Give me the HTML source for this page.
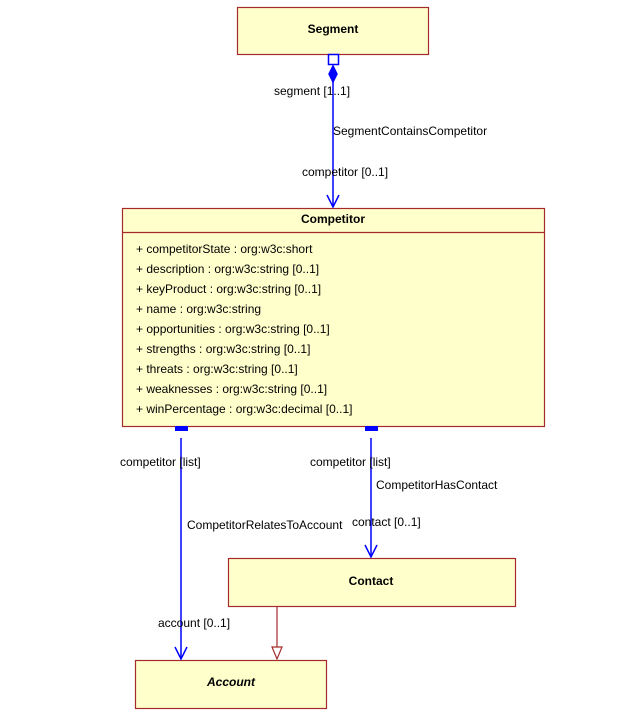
<!DOCTYPE html>
<html><head><style>
body{margin:0;background:#fff;}
svg text{font-family:"Liberation Sans",Arial,sans-serif;font-size:12px;fill:#000;}
</style></head><body>
<svg width="641" height="715" xmlns="http://www.w3.org/2000/svg">
<g fill="#ffffcc" stroke="#a52a2a" stroke-width="1.2">
<rect x="237.5" y="7.5" width="191" height="47"/>
<rect x="122.5" y="208.5" width="422" height="218"/>
<rect x="228.5" y="558.5" width="287" height="48"/>
<rect x="135.5" y="660.5" width="191" height="48"/>
</g>
<line x1="122.5" y1="232.5" x2="544.5" y2="232.5" stroke="#a52a2a" stroke-width="1.2"/>
<text x="333" y="33" text-anchor="middle" font-weight="bold">Segment</text>
<text x="333" y="223" text-anchor="middle" font-weight="bold">Competitor</text>
<text x="371" y="585" text-anchor="middle" font-weight="bold">Contact</text>
<text x="231" y="686" text-anchor="middle" font-weight="bold" font-style="italic">Account</text>
<g>
<text x="136" y="253">+ competitorState : org:w3c:short</text>
<text x="136" y="273">+ description : org:w3c:string [0..1]</text>
<text x="136" y="293">+ keyProduct : org:w3c:string [0..1]</text>
<text x="136" y="313">+ name : org:w3c:string</text>
<text x="136" y="333">+ opportunities : org:w3c:string [0..1]</text>
<text x="136" y="353">+ strengths : org:w3c:string [0..1]</text>
<text x="136" y="373">+ threats : org:w3c:string [0..1]</text>
<text x="136" y="393">+ weaknesses : org:w3c:string [0..1]</text>
<text x="136" y="413">+ winPercentage : org:w3c:decimal [0..1]</text>
</g>
<g stroke="#0000ff" stroke-width="1.5" fill="none">
<line x1="333" y1="66" x2="333" y2="207"/>
<rect x="328.5" y="54.5" width="10" height="10" fill="#fff"/>
<path d="M333 66 L337 74 L333 82 L329 74 Z" fill="#0000ff"/>
<path d="M327 195 L333 207 L339 195"/>
<line x1="181" y1="438" x2="181" y2="659"/>
<path d="M175 647 L181 659 L187 647"/>
<line x1="371" y1="438" x2="371" y2="557"/>
<path d="M365 545 L371 557 L377 545"/>
</g>
<rect x="175" y="426" width="13" height="5" fill="#0000ff"/>
<rect x="365" y="426" width="13" height="5" fill="#0000ff"/>
<line x1="277" y1="607" x2="277" y2="647" stroke="#a52a2a" stroke-width="1.2"/>
<path d="M272 647 L282 647 L277 659 Z" fill="#fff" stroke="#a52a2a" stroke-width="1.2"/>
<text x="274" y="95">segment [1..1]</text>
<text x="333" y="135">SegmentContainsCompetitor</text>
<text x="302" y="176">competitor [0..1]</text>
<text x="120" y="466">competitor [list]</text>
<text x="310" y="466">competitor [list]</text>
<text x="376" y="489">CompetitorHasContact</text>
<text x="187" y="529">CompetitorRelatesToAccount</text>
<text x="352" y="526">contact [0..1]</text>
<text x="158" y="627">account [0..1]</text>
</svg>
</body></html>
